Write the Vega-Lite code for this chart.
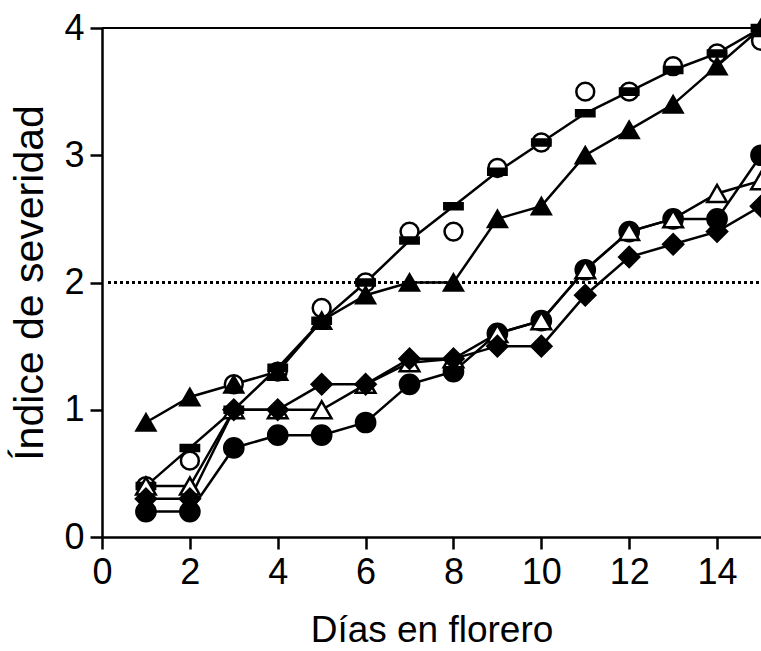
{
  "$schema": "https://vega.github.io/schema/vega-lite/v6.json",
  "autosize": {"type": "none"},
  "width": 659,
  "height": 509,
  "padding": {"left": 102, "top": 28, "right": 0, "bottom": 114},
  "background": "white",
  "config": {
    "view": {"stroke": null},
    "axis": {
      "domainColor": "black", "domainWidth": 2.5, "tickColor": "black", "tickWidth": 2.5, "tickSize": 12,
      "grid": false, "labelColor": "black", "titleColor": "black",
      "labelFont": "Liberation Sans", "titleFont": "Liberation Sans", "titleFontWeight": "normal"
    }
  },
  "data": {"values": [
    {"dia": 1, "serie": "A", "v": 0.4}, {"dia": 2, "serie": "A", "v": 0.6}, {"dia": 3, "serie": "A", "v": 1.2}, {"dia": 4, "serie": "A", "v": 1.3}, {"dia": 5, "serie": "A", "v": 1.8}, {"dia": 6, "serie": "A", "v": 2.0}, {"dia": 7, "serie": "A", "v": 2.4}, {"dia": 8, "serie": "A", "v": 2.4}, {"dia": 9, "serie": "A", "v": 2.9}, {"dia": 10, "serie": "A", "v": 3.1}, {"dia": 11, "serie": "A", "v": 3.5}, {"dia": 12, "serie": "A", "v": 3.5}, {"dia": 13, "serie": "A", "v": 3.7}, {"dia": 14, "serie": "A", "v": 3.8}, {"dia": 15, "serie": "A", "v": 3.9},
    {"dia": 1, "serie": "B", "v": 0.4}, {"dia": 2, "serie": "B", "v": 0.7}, {"dia": 3, "serie": "B", "v": 1.0}, {"dia": 4, "serie": "B", "v": 1.33}, {"dia": 5, "serie": "B", "v": 1.7}, {"dia": 6, "serie": "B", "v": 2.0}, {"dia": 7, "serie": "B", "v": 2.33}, {"dia": 8, "serie": "B", "v": 2.6}, {"dia": 9, "serie": "B", "v": 2.87}, {"dia": 10, "serie": "B", "v": 3.1}, {"dia": 11, "serie": "B", "v": 3.33}, {"dia": 12, "serie": "B", "v": 3.5}, {"dia": 13, "serie": "B", "v": 3.67}, {"dia": 14, "serie": "B", "v": 3.8}, {"dia": 15, "serie": "B", "v": 4.0},
    {"dia": 1, "serie": "C", "v": 0.9}, {"dia": 2, "serie": "C", "v": 1.1}, {"dia": 3, "serie": "C", "v": 1.2}, {"dia": 4, "serie": "C", "v": 1.3}, {"dia": 5, "serie": "C", "v": 1.7}, {"dia": 6, "serie": "C", "v": 1.9}, {"dia": 7, "serie": "C", "v": 2.0}, {"dia": 8, "serie": "C", "v": 2.0}, {"dia": 9, "serie": "C", "v": 2.5}, {"dia": 10, "serie": "C", "v": 2.6}, {"dia": 11, "serie": "C", "v": 3.0}, {"dia": 12, "serie": "C", "v": 3.2}, {"dia": 13, "serie": "C", "v": 3.4}, {"dia": 14, "serie": "C", "v": 3.7}, {"dia": 15, "serie": "C", "v": 4.0},
    {"dia": 1, "serie": "D", "v": 0.2}, {"dia": 2, "serie": "D", "v": 0.2}, {"dia": 3, "serie": "D", "v": 0.7}, {"dia": 4, "serie": "D", "v": 0.8}, {"dia": 5, "serie": "D", "v": 0.8}, {"dia": 6, "serie": "D", "v": 0.9}, {"dia": 7, "serie": "D", "v": 1.2}, {"dia": 8, "serie": "D", "v": 1.3}, {"dia": 9, "serie": "D", "v": 1.6}, {"dia": 10, "serie": "D", "v": 1.7}, {"dia": 11, "serie": "D", "v": 2.1}, {"dia": 12, "serie": "D", "v": 2.4}, {"dia": 13, "serie": "D", "v": 2.5}, {"dia": 14, "serie": "D", "v": 2.5}, {"dia": 15, "serie": "D", "v": 3.0},
    {"dia": 1, "serie": "E", "v": 0.4}, {"dia": 2, "serie": "E", "v": 0.4}, {"dia": 3, "serie": "E", "v": 1.0}, {"dia": 4, "serie": "E", "v": 1.0}, {"dia": 5, "serie": "E", "v": 1.0}, {"dia": 6, "serie": "E", "v": 1.2}, {"dia": 7, "serie": "E", "v": 1.37}, {"dia": 8, "serie": "E", "v": 1.4}, {"dia": 9, "serie": "E", "v": 1.6}, {"dia": 10, "serie": "E", "v": 1.7}, {"dia": 11, "serie": "E", "v": 2.1}, {"dia": 12, "serie": "E", "v": 2.4}, {"dia": 13, "serie": "E", "v": 2.5}, {"dia": 14, "serie": "E", "v": 2.7}, {"dia": 15, "serie": "E", "v": 2.8},
    {"dia": 1, "serie": "F", "v": 0.3}, {"dia": 2, "serie": "F", "v": 0.3}, {"dia": 3, "serie": "F", "v": 1.0}, {"dia": 4, "serie": "F", "v": 1.0}, {"dia": 5, "serie": "F", "v": 1.2}, {"dia": 6, "serie": "F", "v": 1.2}, {"dia": 7, "serie": "F", "v": 1.4}, {"dia": 8, "serie": "F", "v": 1.4}, {"dia": 9, "serie": "F", "v": 1.5}, {"dia": 10, "serie": "F", "v": 1.5}, {"dia": 11, "serie": "F", "v": 1.9}, {"dia": 12, "serie": "F", "v": 2.2}, {"dia": 13, "serie": "F", "v": 2.3}, {"dia": 14, "serie": "F", "v": 2.4}, {"dia": 15, "serie": "F", "v": 2.6}
  ]},
  "encoding": {
    "x": {"field": "dia", "type": "quantitative", "scale": {"domain": [0, 15], "nice": false},
      "axis": {"title": "Días en florero", "values": [0, 2, 4, 6, 8, 10, 12, 14], "labelFontSize": 36, "titleFontSize": 37, "labelPadding": 6, "titlePadding": 22, "labelFlush": false}},
    "y": {"field": "v", "type": "quantitative", "scale": {"domain": [0, 4], "nice": false},
      "axis": {"title": "Índice de severidad", "values": [0, 1, 2, 3, 4], "labelFontSize": 36, "titleFontSize": 41, "labelPadding": 6, "titlePadding": 12, "labelFlush": false}}
  },
  "layer": [
    {"mark": {"type": "rule", "color": "black", "strokeWidth": 2}, "encoding": {"y": {"datum": 4}, "x": {"datum": 0}, "x2": {"datum": 15}}},
    {"mark": {"type": "rule", "color": "black", "strokeWidth": 2, "strokeDash": [2, 4]}, "encoding": {"y": {"datum": 2}, "x": {"datum": 0.15}, "x2": {"datum": 15}}},
    {"transform": [{"filter": "datum.serie !== 'A'"}],
      "mark": {"type": "line", "color": "black", "strokeWidth": 2.5},
      "encoding": {"detail": {"field": "serie"}}},
    {"mark": {"type": "point", "filled": true, "strokeWidth": 2.5, "stroke": "black", "opacity": 1},
      "encoding": {
        "shape": {"field": "serie", "scale": {"domain": ["A", "B", "C", "D", "E", "F"], "range": ["circle", "M-1,-0.33L1,-0.33L1,0.33L-1,0.33Z", "triangle-up", "circle", "triangle-up", "diamond"]}, "legend": null},
        "fill": {"field": "serie", "scale": {"domain": ["A", "B", "C", "D", "E", "F"], "range": ["white", "black", "black", "black", "white", "black"]}, "legend": null},
        "size": {"field": "serie", "scale": {"domain": ["A", "B", "C", "D", "E", "F"], "range": [320, 400, 380, 380, 380, 460]}, "legend": null}
      }}
  ]
}
